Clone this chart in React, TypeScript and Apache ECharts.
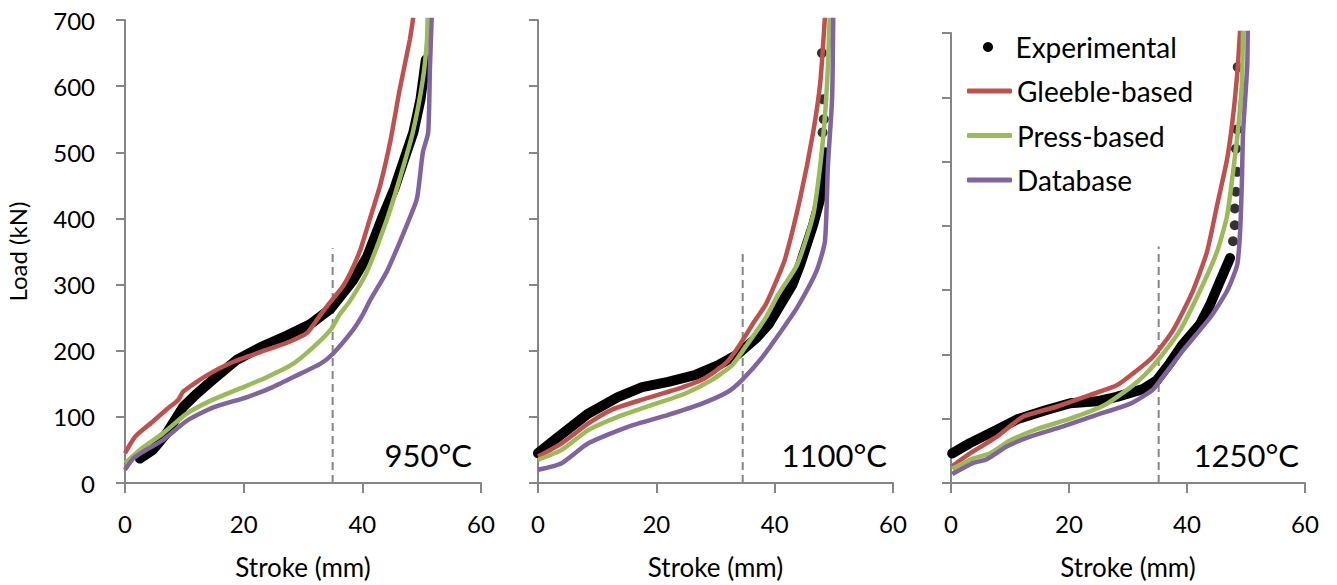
import React, { useEffect, useRef } from "react";
import * as echarts from "echarts";

// ---------- data (Stroke mm, Load kN) ----------
const panelTitles = ["950°C", "1100°C", "1250°C"];
const xTicks = { min: 0, max: 60, interval: 20 };
const yTicks = { min: 0, max: 700, interval: 100 };

// 950 °C
const exp950 = [[2.5,37],[4.7,50],[7,75],[9.8,115],[12.1,135],[14.8,156],[18.8,186],[22.8,205],[27.3,223],[31.2,240],[34.6,263],[38.4,306],[40.8,342],[43.3,400],[45.4,445],[47,488],[48.6,530],[49.8,580],[50.4,620],[50.7,640]];
const expSparse950: number[][] = [];
const gleeble950 = [[0,45],[1.7,70],[4.7,93],[7.1,112],[9,126],[9.8,138],[12.1,153],[14.8,168],[18.2,183],[22.8,198],[27.3,212],[30.7,227],[33,255],[35,278],[36.7,297],[38,318],[39.6,351],[41.3,400],[43,450],[44.7,516],[46.3,595],[48,670],[48.6,705]];
const press950 = [[0,30],[2.5,50],[6.4,75],[10.4,105],[14.8,126],[19.4,143],[23.9,160],[28.3,180],[31.7,205],[34.6,231],[36.2,255],[37.9,275],[40.7,318],[44.2,400],[46.3,460],[48.5,530],[50.2,610],[50.9,670],[51,705]];
const database950 = [[0,20],[1.4,37],[3,47],[6.4,65],[10.4,94],[14.8,114],[20.6,130],[24.9,145],[29.5,165],[32.9,180],[35,195],[38.4,231],[40.1,255],[41.3,276],[44.2,321],[47.5,390],[49.2,430],[50.2,500],[51.1,530],[51.4,630],[51.7,705]];
const ref950 = [[35,0],[35,355]];

// 1100 °C
const exp1100 = [[0,45],[2.9,66],[8.5,105],[13.5,130],[17.6,145],[22,153],[26.5,163],[30.4,178],[33.8,195],[37,220],[39,240],[41,270],[43,300],[44.3,330],[46.5,390],[47.7,430],[48.2,470],[48.5,500]];
const expSparse1100 = [[48.1,530],[48.3,550],[48.2,580],[48,650]];
const gleeble1100 = [[0,40],[4,60],[8.5,90],[12.5,111],[17.6,126],[23.2,141],[27.7,156],[31.6,180],[33.8,205],[36.7,246],[38.5,270],[40.5,310],[41.8,340],[44.3,430],[46.5,530],[47.7,605],[48.5,705]];
const press1100 = [[0,35],[4,50],[8.5,80],[13.5,100],[19.3,118],[24.8,135],[29.4,156],[32.8,178],[35,205],[38.5,250],[40.6,285],[43.8,330],[46.5,405],[47.7,480],[48.5,555],[49,630],[49.3,705]];
const database1100 = [[0,20],[4,30],[8.5,60],[15.2,85],[22,103],[27.7,120],[32.1,138],[34.5,156],[37.9,190],[41.2,231],[43.8,265],[47.1,321],[48.5,366],[49,480],[49.7,580],[49.9,705]];
const ref1100 = [[34.6,0],[34.6,351]];

// 1250 °C
const exp1250 = [[0.2,46],[3.2,62],[7.8,83],[11.2,99],[16.3,114],[20.2,124],[24.7,127],[28.1,134],[32.5,146],[34.9,160],[37,185],[39.3,216],[42.2,247],[43.9,277],[45.6,314],[47.3,350]];
const expSparse1250 = [[47.8,376],[48.1,401],[48.1,427],[48.3,453],[48.5,484],[48.3,520],[48.5,550],[48.6,647]];
const gleeble1250 = [[0.2,26],[3.2,46],[7.8,72],[12.2,103],[18,119],[23.6,137],[28.1,152],[30.8,170],[34.2,196],[37.6,237],[41,299],[43.4,360],[45.1,432],[46.8,504],[47.8,570],[48.6,647],[49,705]];
const press1250 = [[0.2,22],[3.7,38],[6.6,46],[10,66],[14.6,84],[20.2,100],[25.8,120],[30.3,148],[32.5,165],[34.9,189],[38.8,237],[42.2,299],[45.1,360],[46.8,416],[47.8,484],[48.6,545],[49.3,622],[49.5,705]];
const database1250 = [[0.2,14],[3.7,31],[6.1,37],[9.5,57],[13.4,72],[19,88],[24.7,106],[30.3,123],[34.2,145],[35.9,165],[39.3,206],[43.9,257],[46.8,299],[48.5,339],[49,391],[49.3,468],[49.5,545],[50.2,647],[50.3,705]];
const ref1250 = [[35.2,0],[35.2,368]];

const panels = [
  { exp: exp950, sparse: expSparse950, gleeble: gleeble950, press: press950, db: database950, ref: ref950 },
  { exp: exp1100, sparse: expSparse1100, gleeble: gleeble1100, press: press1100, db: database1100, ref: ref1100 },
  { exp: exp1250, sparse: expSparse1250, gleeble: gleeble1250, press: press1250, db: database1250, ref: ref1250 },
];

// ---------- styling ----------
const FONT = 'Lato, "Open Sans", sans-serif';
const AXIS = "#868686";
const RED = "#C0504D";
const GREEN = "#9BBB59";
const PURPLE = "#8064A2";
const LW = 4.5;

const grids = [
  { left: 125, top: 20, width: 356, height: 467 },
  { left: 538, top: 20, width: 355, height: 467 },
  { left: 951, top: 33, width: 354, height: 454 },
];
const titleRight = [472, 887, 1299];

export default function App() {
  const ref = useRef<HTMLDivElement>(null);
  useEffect(() => {
    if (!ref.current) return;
    const chart = echarts.init(ref.current, null, { renderer: "svg" });

    const xAxis = grids.map((_, i) => ({
      gridIndex: i,
      type: "value",
      min: xTicks.min,
      max: xTicks.max,
      interval: xTicks.interval,
      name: "Stroke (mm)",
      nameLocation: "middle",
      nameGap: 71,
      nameTextStyle: { fontSize: 26, color: "#000", fontFamily: FONT },
      axisLine: { show: true, onZero: false, lineStyle: { color: AXIS, width: 2 } },
      axisTick: { show: true, length: 10, lineStyle: { color: AXIS, width: 2 } },
      axisLabel: { fontSize: 24, color: "#000", fontFamily: FONT, margin: 28 },
      splitLine: { show: false },
    }));

    const yAxis = grids.map((_, i) => ({
      gridIndex: i,
      type: "value",
      min: yTicks.min,
      max: yTicks.max,
      interval: yTicks.interval,
      name: i === 0 ? "Load (kN)" : "",
      nameLocation: "middle",
      nameGap: 96,
      nameTextStyle: { fontSize: 24, color: "#000", fontFamily: FONT },
      axisLine: { show: true, lineStyle: { color: AXIS, width: 2 } },
      axisTick: { show: true, length: 9, lineStyle: { color: AXIS, width: 2 } },
      axisLabel: { show: i === 0, fontSize: 24, color: "#000", fontFamily: FONT, margin: 30 },
      splitLine: { show: false },
    }));

    const series: any[] = [];
    panels.forEach((p, i) => {
      const common = { xAxisIndex: i, yAxisIndex: i, showSymbol: false, silent: true };
      series.push({
        ...common,
        type: "line",
        name: "ref",
        data: p.ref,
        lineStyle: { color: AXIS, width: 2, type: [8, 5] },
        z: 1,
      });
      series.push({
        ...common,
        type: "line",
        name: "Experimental",
        data: p.exp,
        itemStyle: { color: "#000" },
        lineStyle: { color: "#000", width: 10, cap: "round", join: "round" },
        z: 2,
      });
      series.push({
        xAxisIndex: i,
        yAxisIndex: i,
        type: "scatter",
        name: "Experimental",
        data: p.sparse,
        symbol: "circle",
        symbolSize: 10,
        itemStyle: { color: "#000" },
        silent: true,
        z: 2,
      });
      series.push({
        ...common,
        type: "line",
        name: "Gleeble-based",
        data: p.gleeble,
        smooth: 0.2,
        itemStyle: { color: RED },
        lineStyle: { color: RED, width: LW },
        z: 3,
      });
      series.push({
        ...common,
        type: "line",
        name: "Press-based",
        data: p.press,
        smooth: 0.2,
        itemStyle: { color: GREEN },
        lineStyle: { color: GREEN, width: LW },
        z: 4,
      });
      series.push({
        ...common,
        type: "line",
        name: "Database",
        data: p.db,
        smooth: 0.2,
        itemStyle: { color: PURPLE },
        lineStyle: { color: PURPLE, width: LW },
        z: 5,
      });
    });

    const legendText = { fontSize: 28, color: "#000", fontFamily: FONT, lineHeight: 30 };

    chart.setOption({
      animation: false,
      grid: grids.map((g) => ({ ...g, containLabel: false })),
      xAxis,
      yAxis,
      legend: [
        {
          orient: "vertical",
          left: 983,
          top: 32,
          padding: 0,
          itemWidth: 45,
          itemHeight: 10,
          selectedMode: false,
          textStyle: legendText,
          data: [{ name: "Experimental", icon: "circle", itemStyle: { color: "#000" } }],
        },
        {
          orient: "vertical",
          left: 967,
          top: 76,
          padding: 0,
          itemWidth: 45,
          itemHeight: 5,
          itemGap: 14.5,
          selectedMode: false,
          textStyle: legendText,
          data: [
            { name: "Gleeble-based", icon: "roundRect", itemStyle: { color: RED } },
            { name: "Press-based", icon: "roundRect", itemStyle: { color: GREEN } },
            { name: "Database", icon: "roundRect", itemStyle: { color: PURPLE } },
          ],
        },
      ],
      graphic: panelTitles.map((t, i) => ({
        type: "text",
        right: 1337 - titleRight[i],
        top: 439,
        style: { text: t, fontSize: 31, fill: "#000", fontFamily: FONT },
        silent: true,
      })),
      series,
    });

    return () => chart.dispose();
  }, []);

  return (
    <div
      ref={ref}
      style={{ position: "fixed", left: 0, top: 0, width: 1337, height: 585, background: "#fff" }}
    />
  );
}
